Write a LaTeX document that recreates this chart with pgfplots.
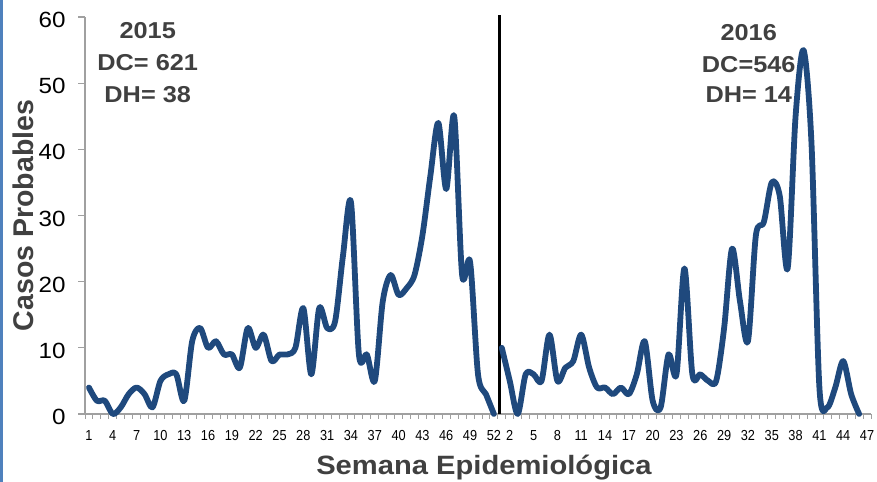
\documentclass[border=0pt]{standalone}
\usepackage{fontspec}
\setmainfont{Liberation Sans}
\newfontfamily\widefont[FakeStretch=1.1]{Liberation Sans}
\newfontfamily\narrowfont[FakeStretch=0.88]{Liberation Sans}
\usepackage{pgfplots}
\pgfplotsset{compat=1.18}
\definecolor{serie}{RGB}{31,73,125}
\definecolor{axgray}{RGB}{160,160,160}
\definecolor{txtgray}{RGB}{64,64,64}
\definecolor{framecol}{RGB}{79,129,189}

% 2015: position = week ; 2016: position = 52 + week
\pgfplotstableread{
pos val
1 4
2 2
3 2
4 0
5 1
6 3
7 4
8 3
9 1
10 5
11 6
12 6
13 2
14 11
15 13
16 10
17 11
18 9
19 9
20 7
21 13
22 10
23 12
24 8
25 9
26 9
27 10
28 16
29 6
30 16
31 13
32 14
33 24
34 32
35 9
36 9
37 5
38 17
39 21
40 18
41 19
42 21
43 27
44 36
45 44
46 34
47 45
48 21
49 23
50 6
51 3
52 0
}\dataA
\pgfplotstableread{
pos val
53 10
54 5
55 0
56 6
57 6
58 5
59 12
60 5
61 7
62 8
63 12
64 7
65 4
66 4
67 3
68 4
69 3
70 6
71 11
72 2
73 1
74 9
75 6
76 22
77 6
78 6
79 5
80 5
81 13
82 25
83 17
84 11
85 27
86 29
87 35
88 33
89 22
90 45
91 55
92 41
93 4
94 1
95 4
96 8
97 3
98 0
}\dataB

\begin{document}
\begin{tikzpicture}
\begin{axis}[
  name=ax,
  scale only axis, width=786pt, height=397pt,
  xmin=0.5, xmax=99.5, ymin=0, ymax=60,
  axis x line=bottom, axis y line=left,
  axis line style={axgray, line width=1.2pt, -},
  clip=false,
  /pgf/number format/assume math mode=true,
  tick align=outside,
  major tick length=7pt,
  minor tick length=5pt,
  ytick={0,10,...,60},
  y tick style={axgray, line width=1.2pt},
  yticklabel style={font=\fontsize{22}{22}\selectfont\widefont, black, anchor=east, xshift=-9pt, yshift=-3pt},
  xtick={1,4,...,52,54,57,...,99},
  xticklabels={1,4,7,10,13,16,19,22,25,28,31,34,37,40,43,46,49,52,2,5,8,11,14,17,20,23,26,29,32,35,38,41,44,47},
  major x tick style={draw=none},
  minor xtick={0.5,1.5,...,99.5},
  minor x tick style={axgray, line width=0.9pt},
  xticklabel style={font=\fontsize{14.5}{14.5}\selectfont\narrowfont, black, anchor=base, yshift=-20pt},
  every axis x label/.style={at={(axis cs:50.75,-9.07)}, anchor=base},
  xlabel style={font=\fontsize{26.5}{26.5}\selectfont\widefont\bfseries, text=txtgray},
  xlabel={Semana Epidemiológica},
  every axis y label/.style={at={(axis cs:-7.3,30)}, rotate=90, anchor=center},
  ylabel style={font=\fontsize{28.5}{28.5}\selectfont\bfseries, text=txtgray},
  ylabel={Casos Probables},
]
\node[font=\fontsize{23}{23}\selectfont\widefont\bfseries, text=txtgray, anchor=base] at (axis cs:8.4,56.8) {2015};
\node[font=\fontsize{23}{23}\selectfont\widefont\bfseries, text=txtgray, anchor=base] at (axis cs:8.4,51.9) {DC= 621};
\node[font=\fontsize{23}{23}\selectfont\widefont\bfseries, text=txtgray, anchor=base] at (axis cs:8.4,47.1) {DH= 38};
\node[font=\fontsize{23}{23}\selectfont\widefont\bfseries, text=txtgray, anchor=base] at (axis cs:84.1,56.5) {2016};
\node[font=\fontsize{23}{23}\selectfont\widefont\bfseries, text=txtgray, anchor=base] at (axis cs:84.1,51.6) {DC=546};
\node[font=\fontsize{23}{23}\selectfont\widefont\bfseries, text=txtgray, anchor=base] at (axis cs:84.1,47.1) {DH= 14};
\addplot[black, line width=3pt] coordinates {(52.75,0) (52.75,60.3)};
\addplot[serie, line width=5.8pt, smooth, tension=0.5, line join=round, line cap=round] table[x=pos, y=val] {\dataA};
\addplot[serie, line width=5.8pt, smooth, tension=0.5, line join=round, line cap=round] table[x=pos, y=val] {\dataB};
\end{axis}
\draw[framecol, line width=2.5pt] ([xshift=-83.5pt,yshift=-68pt]ax.south west) -- ([xshift=-83.5pt,yshift=17pt]ax.north west);
\pgfresetboundingbox
\path[use as bounding box] ([xshift=-85pt,yshift=-68pt]ax.south west) rectangle ([xshift=6pt,yshift=17pt]ax.north east);
\end{tikzpicture}
\end{document}
